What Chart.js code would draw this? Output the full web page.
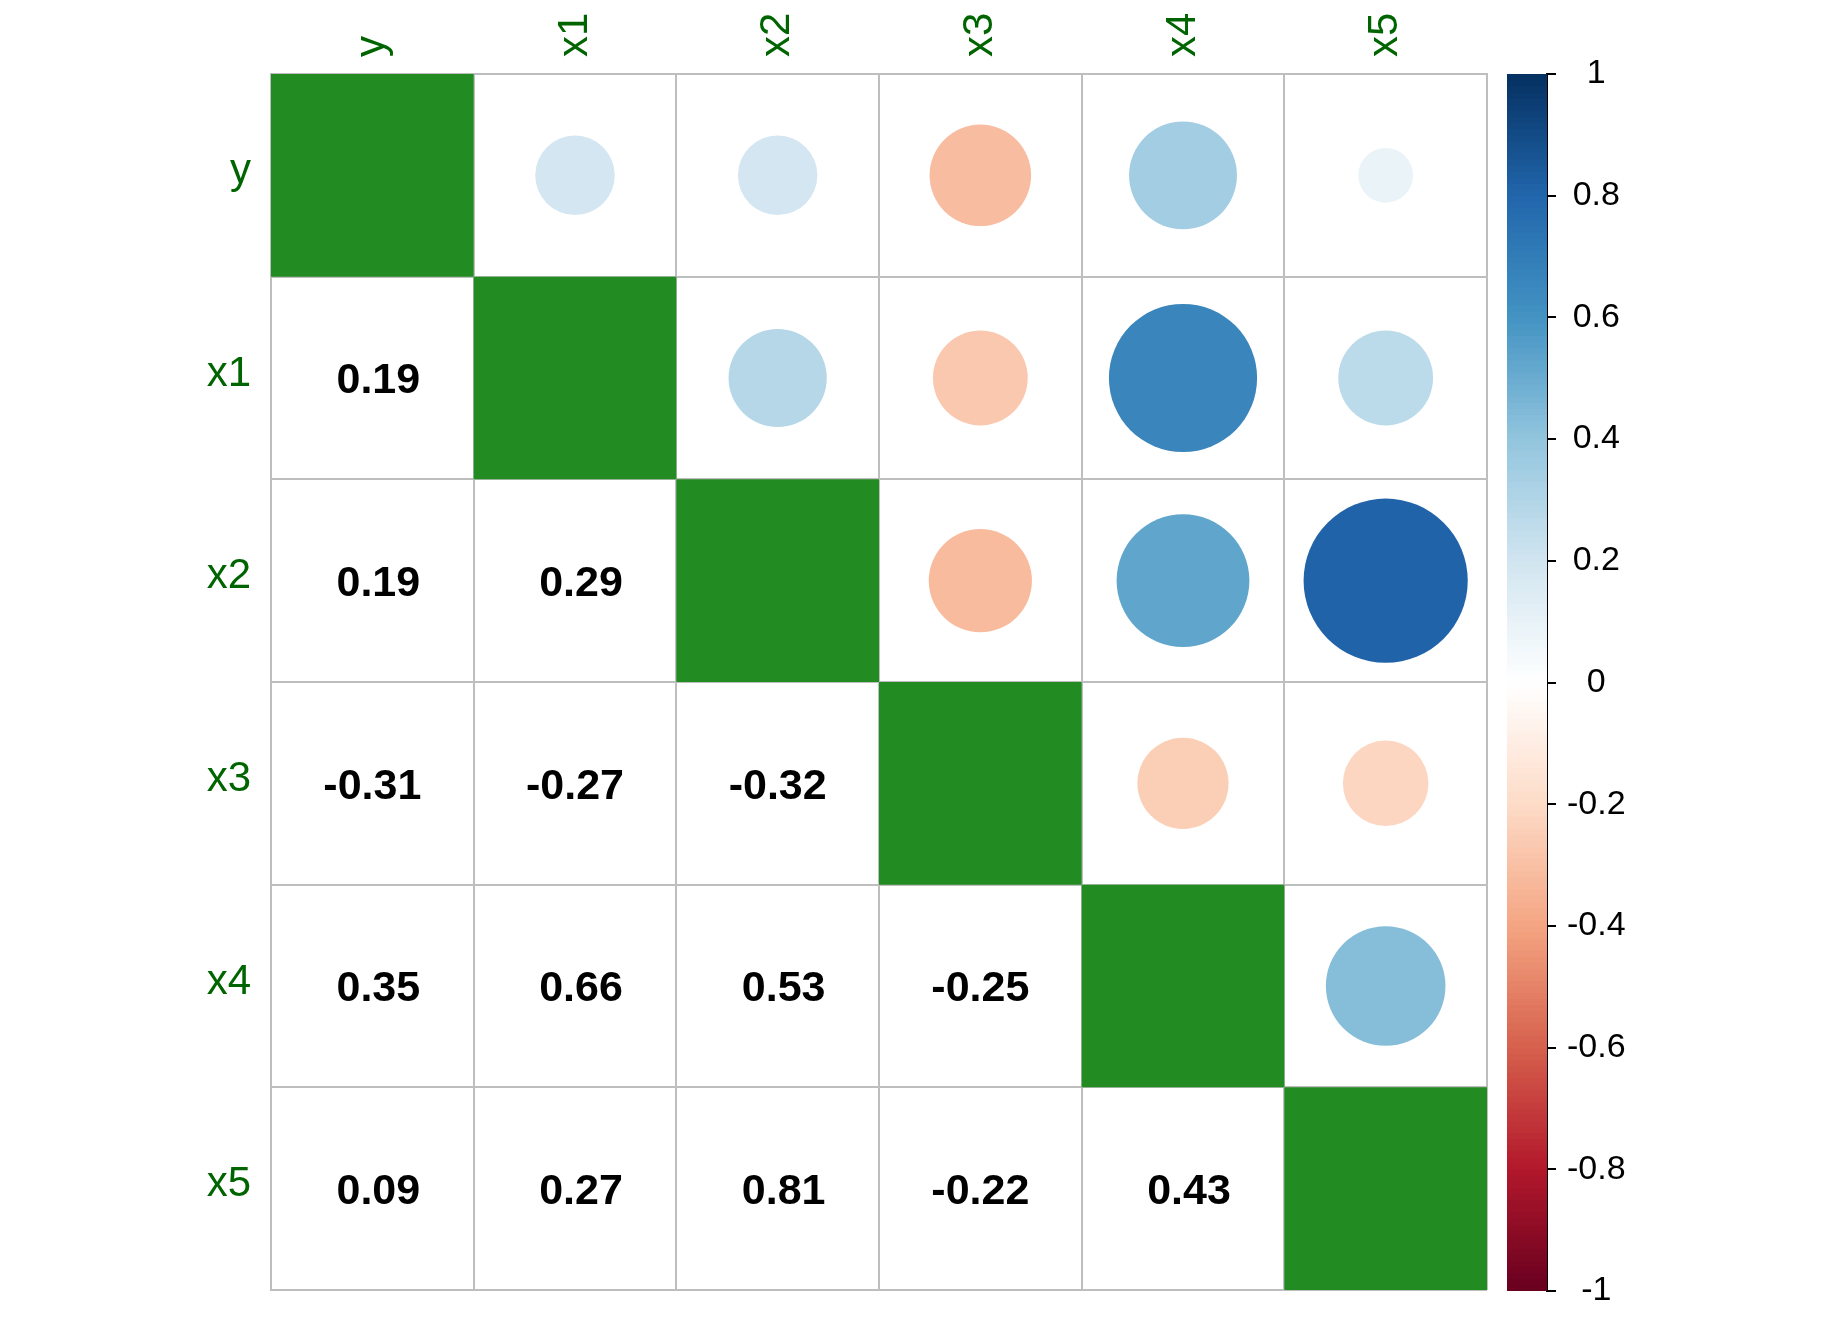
<!DOCTYPE html>
<html>
<head>
<meta charset="utf-8">
<script src="https://cdn.jsdelivr.net/npm/chart.js@4"></script>
<style>
html,body{margin:0;padding:0;background:#fff;}
#wrap{position:relative;width:1848px;height:1320px;}
#wrap canvas{position:absolute;left:0;top:0;}
</style>
</head>
<body>
<div id="wrap">
<canvas id="main" width="1848" height="1320"></canvas>
<canvas id="cbar" width="1848" height="1320"></canvas>
</div>
<script>
// ---------------- data ----------------
const variables = ['y', 'x1', 'x2', 'x3', 'x4', 'x5'];
const corrY  = [ 1.00,  0.19,  0.19, -0.31,  0.35,  0.09];
const corrX1 = [ 0.19,  1.00,  0.29, -0.27,  0.66,  0.27];
const corrX2 = [ 0.19,  0.29,  1.00, -0.32,  0.53,  0.81];
const corrX3 = [-0.31, -0.27, -0.32,  1.00, -0.25, -0.22];
const corrX4 = [ 0.35,  0.66,  0.53, -0.25,  1.00,  0.43];
const corrX5 = [ 0.09,  0.27,  0.81, -0.22,  0.43,  1.00];
const colorbarTicks = [-1, -0.8, -0.6, -0.4, -0.2, 0, 0.2, 0.4, 0.6, 0.8, 1];
const paletteStops = ['#67001F', '#B2182B', '#D6604D', '#F4A582', '#FDDBC7', '#FFFFFF',
                      '#D1E5F0', '#92C5DE', '#4393C3', '#2166AC', '#053061'];
const colorbarBins = 200;

// ---------------- helpers ----------------
const FONT = '"Liberation Sans", Arial, Helvetica, sans-serif';
const GRID = '#BEBEBE';
const LABEL = '#006400';
const DIAG = '#228B22';
const LABEL_SIZE = 42;

function hexToRgb(h) {
  const n = parseInt(h.slice(1), 16);
  return [(n >> 16) & 255, (n >> 8) & 255, n & 255];
}
const stopsRgb = paletteStops.map(hexToRgb);
function corrColor(v) {
  const t = Math.max(0, Math.min(1, (v + 1) / 2)) * (stopsRgb.length - 1);
  const i = Math.min(stopsRgb.length - 2, Math.floor(t));
  const f = t - i;
  const a = stopsRgb[i], b = stopsRgb[i + 1];
  const c = a.map((av, k) => Math.round(av + (b[k] - av) * f));
  return `rgb(${c[0]},${c[1]},${c[2]})`;
}

const matrix = [corrY, corrX1, corrX2, corrX3, corrX4, corrX5];
const diagPoints = [], upperPoints = [], lowerPoints = [];
matrix.forEach((row, i) => {
  row.forEach((v, j) => {
    const p = { x: variables[j], y: variables[i], v: v };
    if (i === j) diagPoints.push(p);
    else if (j > i) upperPoints.push(p);
    else lowerPoints.push(p);
  });
});

function cellSize(chart) {
  return chart.scales.x.width / variables.length;
}
function noPad(s) {
  s.paddingTop = 0; s.paddingBottom = 0; s.paddingLeft = 0; s.paddingRight = 0;
}

// ---------------- coefficient text plugin ----------------
const coefLabels = {
  id: 'coefLabels',
  afterDatasetsDraw(chart) {
    const { ctx, scales: { x, y } } = chart;
    const fs = 43;
    ctx.save();
    ctx.font = `bold ${fs}px ${FONT}`;
    ctx.fillStyle = '#000000';
    ctx.textAlign = 'center';
    ctx.textBaseline = 'alphabetic';
    lowerPoints.forEach(p => {
      const txt = (p.v < 0 ? '' : ' ') + p.v.toFixed(2);
      const px = x.getPixelForValue(p.x);
      const py = y.getPixelForValue(p.y);
      ctx.fillText(txt, px, py + fs * 0.358);
    });
    ctx.restore();
  }
};

// ---------------- main chart ----------------
new Chart(document.getElementById('main'), {
  type: 'scatter',
  data: {
    datasets: [
      {
        label: 'diag',
        data: diagPoints,
        pointStyle: 'rect',
        backgroundColor: DIAG,
        borderWidth: 0,
        pointRadius: ctx => cellSize(ctx.chart) / Math.SQRT2,
        pointHoverRadius: ctx => cellSize(ctx.chart) / Math.SQRT2
      },
      {
        label: 'upper',
        data: upperPoints,
        pointStyle: 'circle',
        backgroundColor: ctx => corrColor(ctx.raw ? ctx.raw.v : 0),
        borderWidth: 0,
        pointRadius: ctx => 0.45 * Math.sqrt(Math.abs(ctx.raw ? ctx.raw.v : 0)) * cellSize(ctx.chart),
        pointHoverRadius: ctx => 0.45 * Math.sqrt(Math.abs(ctx.raw ? ctx.raw.v : 0)) * cellSize(ctx.chart)
      }
    ]
  },
  options: {
    responsive: false,
    devicePixelRatio: 1,
    animation: false,
    events: [],
    layout: { padding: { left: 0, top: 0, right: 361, bottom: 30 } },
    plugins: { legend: { display: false }, tooltip: { enabled: false } },
    scales: {
      x: {
        type: 'category',
        labels: variables,
        position: 'top',
        offset: true,
        z: 1,
        grid: { offset: true, color: GRID, lineWidth: 2, drawTicks: false },
        border: { color: GRID, width: 2 },
        ticks: {
          color: LABEL,
          font: { family: FONT, size: LABEL_SIZE },
          minRotation: 90, maxRotation: 90,
          labelOffset: LABEL_SIZE * 1.2,
          padding: 17, autoSkip: false
        },
        afterFit: s => { s.height = 74; noPad(s); }
      },
      y: {
        type: 'category',
        labels: variables,
        position: 'left',
        offset: true,
        z: 1,
        grid: { offset: true, color: GRID, lineWidth: 2, drawTicks: false },
        border: { color: GRID, width: 2 },
        ticks: {
          color: LABEL,
          font: { family: FONT, size: LABEL_SIZE },
          labelOffset: -4,
          padding: 20, autoSkip: false
        },
        afterFit: s => { s.width = 271; noPad(s); }
      }
    }
  },
  plugins: [coefLabels]
});

// ---------------- colour bar ----------------
const binStep = 2 / colorbarBins;
const binData = [], binColors = [];
for (let k = 0; k < colorbarBins; k++) {
  const lo = -1 + k * binStep;
  const hi = Math.min(1, lo + binStep + 0.004);
  binData.push({ x: 'cb', y: [lo, hi] });
  binColors.push(corrColor(lo + binStep / 2));
}

new Chart(document.getElementById('cbar'), {
  type: 'bar',
  data: {
    labels: ['cb'],
    datasets: [
      {
        data: binData,
        backgroundColor: binColors,
        borderWidth: 0,
        grouped: false,
        barPercentage: 1,
        categoryPercentage: 1
      },
      {
        data: [{ x: 'cb', y: [colorbarTicks[0], colorbarTicks[colorbarTicks.length - 1]] }],
        backgroundColor: 'rgba(0,0,0,0)',
        borderColor: '#000000',
        borderWidth: 2,
        borderSkipped: false,
        grouped: false,
        barPercentage: 1,
        categoryPercentage: 1
      }
    ]
  },
  options: {
    responsive: false,
    devicePixelRatio: 1,
    animation: false,
    events: [],
    layout: { padding: { left: 1507, top: 74, right: 0, bottom: 29 } },
    plugins: { legend: { display: false }, tooltip: { enabled: false } },
    scales: {
      x: { type: 'category', display: false, offset: true },
      y: {
        type: 'linear',
        position: 'right',
        min: colorbarTicks[0],
        max: colorbarTicks[colorbarTicks.length - 1],
        afterBuildTicks: s => { s.ticks = colorbarTicks.map(v => ({ value: v })); },
        grid: { drawOnChartArea: false, drawTicks: true, tickLength: 9, color: '#000000', lineWidth: 2 },
        border: { display: true, color: '#000000', width: 2 },
        ticks: {
          color: '#000000',
          font: { family: FONT, size: 34 },
          padding: 11,
          crossAlign: 'center',
          callback: v => String(v)
        },
        afterFit: s => { s.width = 301; noPad(s); }
      }
    }
  }
});
</script>
</body>
</html>
